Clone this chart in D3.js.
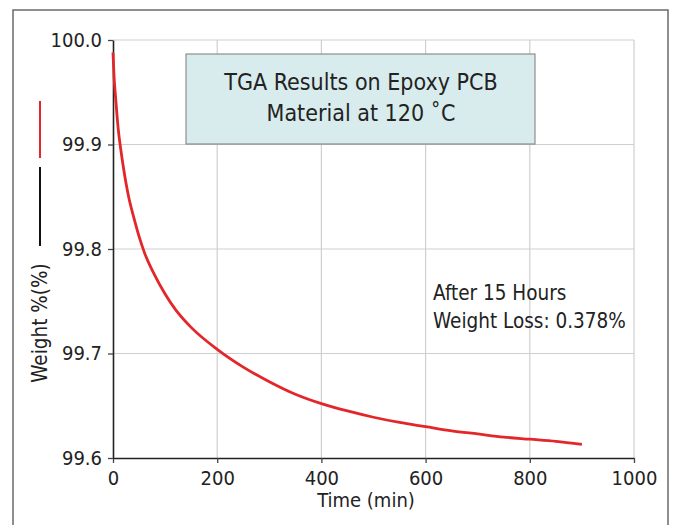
<!DOCTYPE html>
<html>
<head>
<meta charset="utf-8">
<script src="https://cdn.jsdelivr.net/npm/d3@7"></script>
<style>
  body { margin: 0; background: #fff; }
  text { font-family: "Liberation Sans Narrow", "DejaVu Sans Condensed", "Roboto", sans-serif; fill: #222; }
</style>
</head>
<body>
<script>
// data
var times = [0, 2, 5, 10, 15, 20, 30, 40, 50, 60, 80, 100, 120, 150, 200, 250, 300,
             350, 400, 450, 500, 550, 600, 650, 700, 750, 800, 850, 900];
var weights = [99.988, 99.965, 99.945, 99.915, 99.895, 99.878, 99.85, 99.83, 99.812, 99.797,
               99.775, 99.757, 99.742, 99.725, 99.704, 99.687, 99.673, 99.661, 99.652,
               99.645, 99.639, 99.634, 99.63, 99.626, 99.623, 99.62, 99.618, 99.616, 99.613];
var xTicks = [0, 200, 400, 600, 800, 1000];
var yTicks = [99.6, 99.7, 99.8, 99.9, 100.0];
var titleLines = ["TGA Results on Epoxy PCB", "Material at 120 \u02DAC"];
var noteLines = ["After 15 Hours", "Weight Loss: 0.378%"];

var width = 673, height = 525;

var svg = d3.select("body").append("svg")
    .attr("width", width)
    .attr("height", height);

// outer frame
svg.append("rect")
    .attr("x", 13).attr("y", 10)
    .attr("width", 655).attr("height", 530)
    .attr("fill", "none")
    .attr("stroke", "#6a6a6a")
    .attr("stroke-width", 1.5);

var x = d3.scaleLinear().domain([0, 1000]).range([113, 634]);
var y = d3.scaleLinear().domain([99.6, 100.0]).range([458, 40]);

// grid
svg.append("g").selectAll("line")
    .data(xTicks.slice(1))
  .enter().append("line")
    .attr("x1", function(d) { return x(d); })
    .attr("x2", function(d) { return x(d); })
    .attr("y1", y(100)).attr("y2", y(99.6))
    .attr("stroke", "#cfcfcf").attr("stroke-width", 1.2);

svg.append("g").selectAll("line")
    .data(yTicks.slice(1))
  .enter().append("line")
    .attr("x1", x(0)).attr("x2", x(1000))
    .attr("y1", function(d) { return y(d); })
    .attr("y2", function(d) { return y(d); })
    .attr("stroke", "#cfcfcf").attr("stroke-width", 1.2);

// axes
var xAxis = svg.append("g")
    .attr("transform", "translate(0," + y(99.6) + ")")
    .call(d3.axisBottom(x).tickValues(xTicks).tickFormat(d3.format("d")).tickSize(5).tickSizeOuter(0));
var yAxis = svg.append("g")
    .attr("transform", "translate(" + x(0) + ",0)")
    .call(d3.axisLeft(y).tickValues(yTicks).tickFormat(d3.format(".1f")).tickSize(5).tickSizeOuter(0));

[xAxis, yAxis].forEach(function(a) {
  a.select(".domain").attr("stroke", "#222").attr("stroke-width", 1.6);
  a.selectAll(".tick line").attr("stroke", "#444").attr("stroke-width", 1.3);
  a.selectAll(".tick text").style("font-size", "20px").attr("fill", "#222");
});
xAxis.selectAll(".tick text").attr("dy", "0.95em");
yAxis.selectAll(".tick text").attr("x", -11);

// curve
var line = d3.line()
    .x(function(d, i) { return x(times[i]); })
    .y(function(d) { return y(d); })
    .curve(d3.curveMonotoneX);

svg.append("path")
    .datum(weights)
    .attr("d", line)
    .attr("fill", "none")
    .attr("stroke", "#e3262a")
    .attr("stroke-width", 2.8);

// title box
svg.append("rect")
    .attr("x", 186).attr("y", 54)
    .attr("width", 349).attr("height", 90)
    .attr("fill", "#d8ecee")
    .attr("stroke", "#7a7a7a")
    .attr("stroke-width", 1);

svg.append("g").selectAll("text")
    .data(titleLines)
  .enter().append("text")
    .attr("x", 361)
    .attr("y", function(d, i) { return 90 + i * 31; })
    .attr("text-anchor", "middle")
    .style("font-size", "23px")
    .text(function(d) { return d; });

// note
svg.append("g").selectAll("text")
    .data(noteLines)
  .enter().append("text")
    .attr("x", 433)
    .attr("y", function(d, i) { return 300 + i * 28; })
    .style("font-size", "20.5px")
    .text(function(d) { return d; });

// axis titles
svg.append("text")
    .attr("x", 366).attr("y", 507)
    .attr("text-anchor", "middle")
    .style("font-size", "20px")
    .text("Time (min)");

svg.append("text")
    .attr("transform", "translate(47,323)rotate(-90)")
    .attr("text-anchor", "middle")
    .style("font-size", "20.5px")
    .text("Weight %(%)");

// legend marks beside the y title
svg.append("line")
    .attr("x1", 40).attr("x2", 40).attr("y1", 101).attr("y2", 158)
    .attr("stroke", "#e3262a").attr("stroke-width", 2);
svg.append("line")
    .attr("x1", 40).attr("x2", 40).attr("y1", 167).attr("y2", 246)
    .attr("stroke", "#111").attr("stroke-width", 2);
</script>
</body>
</html>
